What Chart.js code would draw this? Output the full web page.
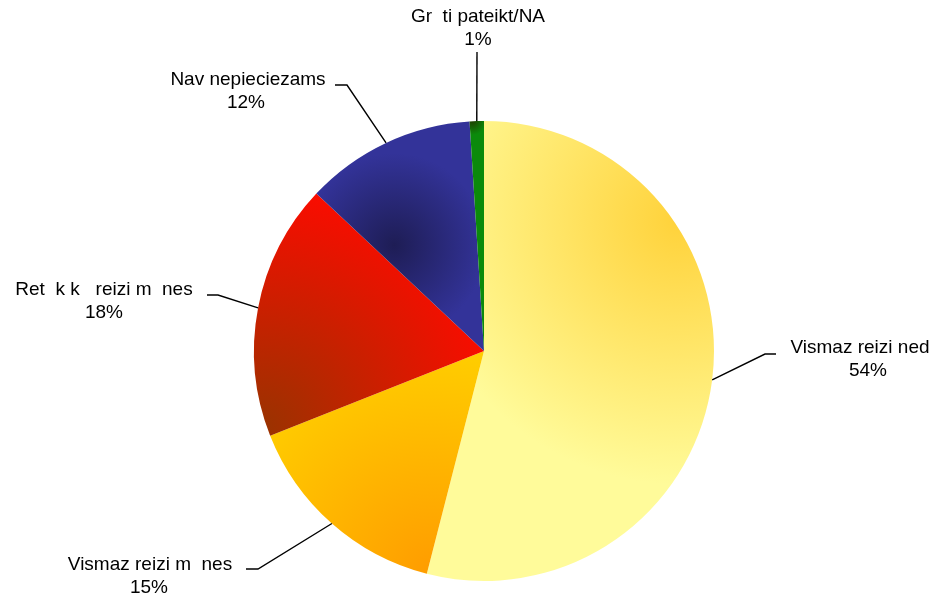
<!DOCTYPE html>
<html>
<head>
<meta charset="utf-8">
<script src="https://cdn.jsdelivr.net/npm/chart.js@4"></script>
<style>
  body { margin: 0; background: #fff; }
  canvas { display: block; }
</style>
</head>
<body>
<canvas id="pie" width="938" height="596"></canvas>
<script>
// dati
const categories = ['Vismaz reizi ned', 'Vismaz reizi m  nes', 'Ret  k k   reizi m  nes', 'Nav nepieciezams', 'Gr  ti pateikt/NA'];
const values = [54, 15, 18, 12, 1];
const percentLabels = ['54%', '15%', '18%', '12%', '1%'];

// krāsas: [iekšējā, ārējā] + gradienta centrs (attiecībā pret rādiusu)
const gradients = [
    { inner: '#ffd23a', outer: '#fffb9a', cx: 0.85, cy: -0.57, r: 1.15 },
    { inner: '#ff9c00', outer: '#ffcc00', cx: -0.23, cy: 0.97, r: 0.95 },
    { inner: '#993300', outer: '#ff0a00', cx: -0.97, cy: 0.34, r: 1.1 },
    { inner: '#1e1d55', outer: '#333399', cx: -0.39, cy: -0.46, r: 0.4 },
    { inner: '#1f3f00', outer: '#0b8a0b', cx: -0.05, cy: -1.0, r: 0.06 }
];

// etiķešu izvietojums (līnijas lūzums, teksts)
const labelLayout = [
    { ex: 765, ey: 354, hx: 776, tx: 860, ty: 348, px: 868 },
    { ex: 258, ey: 569, hx: 246, tx: 150, ty: 565, px: 149 },
    { ex: 218, ey: 295, hx: 207, tx: 104, ty: 290, px: 104 },
    { ex: 347, ey: 85, hx: 335, tx: 248, ty: 80, px: 246 },
    { ex: 477, ey: 52, hx: 477, tx: 478, ty: 17, px: 478 }
];

function sliceColor(context) {
    const chart = context.chart;
    const area = chart.chartArea;
    if (!area) return gradients[context.dataIndex].outer;
    const g = gradients[context.dataIndex];
    const cx = (area.left + area.right) / 2;
    const cy = (area.top + area.bottom) / 2;
    const R = Math.min(area.right - area.left, area.bottom - area.top) / 2;
    const gx = cx + g.cx * R, gy = cy + g.cy * R;
    const grad = chart.ctx.createRadialGradient(gx, gy, 0, gx, gy, g.r * R);
    grad.addColorStop(0, g.inner);
    grad.addColorStop(1, g.outer);
    return grad;
}

const leaderLabels = {
    id: 'leaderLabels',
    afterDraw(chart) {
        const ctx = chart.ctx;
        const arcs = chart.getDatasetMeta(0).data;
        ctx.save();
        ctx.strokeStyle = '#000';
        ctx.lineWidth = 1.4;
        ctx.fillStyle = '#000';
        ctx.font = '19px "Liberation Sans", Arial, sans-serif';
        ctx.textAlign = 'center';
        ctx.textBaseline = 'middle';
        arcs.forEach((arc, i) => {
            const p = arc.getProps(['x', 'y', 'startAngle', 'endAngle', 'outerRadius'], true);
            const mid = (p.startAngle + p.endAngle) / 2;
            const sx = p.x + Math.cos(mid) * p.outerRadius;
            const sy = p.y + Math.sin(mid) * p.outerRadius;
            const l = labelLayout[i];
            ctx.beginPath();
            ctx.moveTo(sx, sy);
            ctx.lineTo(l.ex, l.ey);
            ctx.lineTo(l.hx, l.ey);
            ctx.stroke();
            ctx.fillText(categories[i], l.tx, l.ty);
            ctx.fillText(percentLabels[i], l.px, l.ty + 23);
        });
        ctx.restore();
    }
};

new Chart(document.getElementById('pie'), {
    type: 'pie',
    data: {
        labels: categories,
        datasets: [{
            data: values,
            backgroundColor: sliceColor,
            borderWidth: 0
        }]
    },
    options: {
        responsive: false,
        animation: false,
        layout: { padding: { top: 121, bottom: 15, left: 254, right: 224 } },
        plugins: {
            legend: { display: false },
            tooltip: { enabled: false }
        }
    },
    plugins: [leaderLabels]
});
</script>
</body>
</html>
